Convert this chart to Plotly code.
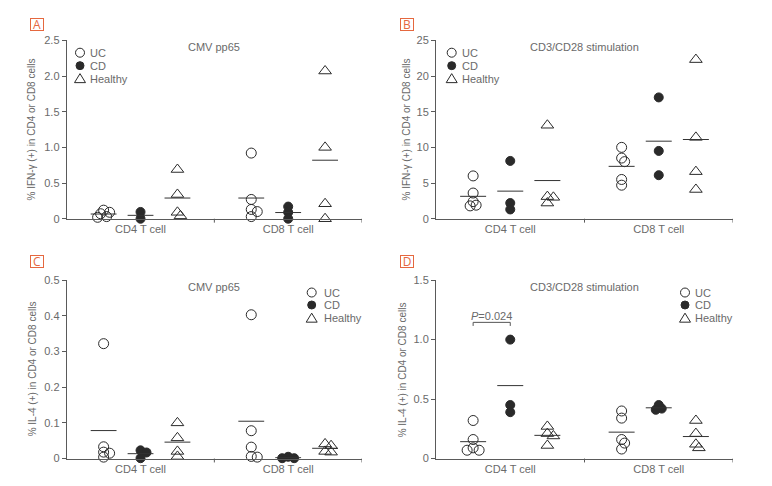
import plotly.graph_objects as go
import numpy as np

# ---------------- data ----------------
groups = ["UC", "CD", "Healthy"]
cells = ["CD4 T cell", "CD8 T cell"]

A_vals = {
    "CD4 T cell": {"UC": [0.12, 0.09, 0.07, 0.03, 0.02], "CD": [0.095, 0.0], "Healthy": [0.69, 0.34, 0.09, 0.04]},
    "CD8 T cell": {"UC": [0.92, 0.27, 0.13, 0.10, 0.03], "CD": [0.17, 0.09, 0.0], "Healthy": [2.07, 1.00, 0.21, 0.0]},
}
B_vals = {
    "CD4 T cell": {"UC": [6.0, 3.6, 2.4, 1.9, 1.8], "CD": [8.1, 2.2, 1.3], "Healthy": [13.1, 3.1, 3.0, 2.2]},
    "CD8 T cell": {"UC": [10.0, 8.5, 8.0, 5.5, 4.7], "CD": [17.0, 9.5, 6.1], "Healthy": [22.3, 11.4, 6.6, 4.1]},
}
C_vals = {
    "CD4 T cell": {"UC": [0.322, 0.033, 0.018, 0.015, 0.004], "CD": [0.023, 0.017, 0.001], "Healthy": [0.100, 0.058, 0.020, 0.006]},
    "CD8 T cell": {"UC": [0.403, 0.078, 0.032, 0.006, 0.004], "CD": [0.005, 0.001, 0.001], "Healthy": [0.041, 0.036, 0.020, 0.018]},
}
D_vals = {
    "CD4 T cell": {"UC": [0.32, 0.16, 0.09, 0.07, 0.07], "CD": [1.00, 0.45, 0.39], "Healthy": [0.27, 0.21, 0.19, 0.11]},
    "CD8 T cell": {"UC": [0.40, 0.34, 0.16, 0.13, 0.08], "CD": [0.45, 0.42, 0.41], "Healthy": [0.32, 0.21, 0.12, 0.09]},
}

panel_labels = ["A", "B", "C", "D"]
panel_titles = ["CMV pp65", "CD3/CD28 stimulation", "CMV pp65", "CD3/CD28 stimulation"]
y_titles = ["% IFN-γ (+) in CD4 or CD8 cells", "% IFN-γ (+) in CD4 or CD8 cells",
            "% IL-4 (+) in CD4 or CD8 cells", "% IL-4 (+) in CD4 or CD8 cells"]
y_max = [2.5, 25, 0.5, 1.5]
y_tickvals = [[0, 0.5, 1.0, 1.5, 2.0, 2.5], [0, 5, 10, 15, 20, 25],
              [0, 0.1, 0.2, 0.3, 0.4, 0.5], [0, 0.5, 1.0, 1.5]]
y_ticktext = [["0", "0.5", "1.0", "1.5", "2.0", "2.5"], ["0", "5", "10", "15", "20", "25"],
              ["0", "0.1", "0.2", "0.3", "0.4", "0.5"], ["0", "0.5", "1.0", "1.5"]]
panel_data = [A_vals, B_vals, C_vals, D_vals]
p_value_text = "<i>P</i>=0.024"

# ---------------- geometry (target pixels) ----------------
OFF = 8                      # page body margin
FW, FH = 772 - OFF, 486 - OFF
col_x = [(66.7, 362.0), (436.0, 733.0)]
row_y = [(35.0, 218.0), (281.0, 464.0)]
XMAX = 8.0

box_pos = [(30, 12), (400, 12.5), (29.5, 255.5), (400, 255.5)]      # top-left of letter boxes
ytitle_x = [32, 407, 32, 402]
leg_sym_x = [80, 451.7, 311.7, 685]
leg_txt_x = [88, 460, 321.7, 693.3]
leg_rows = [(47.7, 61, 74.3), (47.7, 61, 74.3), (293.7, 306.5, 320), (293.7, 306.5, 320)]


def pxx(x):
    return (x - OFF) / FW


def pxy(y):
    return 1 - (y - OFF) / FH


TXT = "#6a6a6a"
AX = "#5a5a5a"
MK = "#2a2a2a"
ORANGE = "#E5683F"
FONT = "Liberation Sans"

sym = {"UC": "circle-open", "CD": "circle", "Healthy": "triangle-up-open"}
msize = {"UC": 10, "CD": 9, "Healthy": 11}


def gpos(ci, gi):
    return ci * 4 + gi + 1


def beeswarm(vals, xscale, yscale, d=9.0):
    placed = []
    offs = [0.0] * len(vals)
    order = sorted(range(len(vals)), key=lambda i: -vals[i])
    step = 3.0
    cands = [0.0]
    for k in range(1, 10):
        cands += [k * step, -k * step]
    for i in order:
        yp = vals[i] * yscale
        for c in cands:
            if all(((c - px) ** 2 + (yp - py) ** 2) ** 0.5 >= d * 0.5 for px, py in placed):
                offs[i] = c / xscale
                placed.append((c, yp))
                break
    return offs


fig = go.Figure()
layout = dict(width=FW, height=FH, margin=dict(l=0, r=0, t=0, b=0),
              paper_bgcolor="white", plot_bgcolor="white",
              font=dict(family=FONT, color=TXT, size=11), showlegend=False)
annotations = []
shapes = []

for pi in range(4):
    r, c = divmod(pi, 2)
    sfx = "" if pi == 0 else str(pi + 1)
    xa, ya = "x" + sfx, "y" + sfx
    x0, x1 = col_x[c]
    y0, y1 = row_y[r]
    xscale = (x1 - x0) / XMAX
    yscale = (y1 - y0) / y_max[pi]

    mean_x, mean_y = [], []
    for gi, g in enumerate(groups):
        xs, ys = [], []
        for ci, cname in enumerate(cells):
            vals = panel_data[pi][cname][g]
            offs = beeswarm(vals, xscale, yscale)
            xs += [gpos(ci, gi) + o for o in offs]
            ys += vals
            m = float(np.mean(vals))
            mean_x += [gpos(ci, gi) - 0.35, gpos(ci, gi) + 0.35, None]
            mean_y += [m, m, None]
        fig.add_trace(go.Scatter(
            x=xs, y=ys, mode="markers", name=g, xaxis=xa, yaxis=ya,
            cliponaxis=False,
            marker=dict(symbol=sym[g], size=msize[g], color=MK, line=dict(color=MK, width=1)),
        ))
    fig.add_trace(go.Scatter(x=mean_x, y=mean_y, mode="lines", xaxis=xa, yaxis=ya, showlegend=False,
                             cliponaxis=False, line=dict(color="#333333", width=1), hoverinfo="skip"))

    layout["xaxis" + sfx] = dict(domain=[pxx(x0), pxx(x1)], range=[0, XMAX], anchor=ya, showline=True,
                                 linecolor=AX, linewidth=1, showgrid=False, zeroline=False, ticks="",
                                 tickvals=[2, 6], ticktext=cells, tickfont=dict(size=11, color=TXT))
    layout["yaxis" + sfx] = dict(domain=[pxy(y1), pxy(y0)], range=[0, y_max[pi]], anchor=xa, showline=True,
                                 linecolor=AX, linewidth=1, showgrid=False, zeroline=False,
                                 ticks="outside", ticklen=4, tickcolor=AX,
                                 tickvals=y_tickvals[pi], ticktext=y_ticktext[pi],
                                 tickfont=dict(size=11, color=TXT))
    # x tick marks at separator and right end
    for xv in (4, 8):
        shapes.append(dict(type="line", xref=xa, yref=ya + " domain", x0=xv, x1=xv, y0=0,
                           y1=-4 / (y1 - y0), line=dict(color=AX, width=1)))
    # y axis title
    annotations.append(dict(text=y_titles[pi], xref="paper", yref="paper", x=pxx(ytitle_x[pi]),
                            y=pxy((y0 + y1) / 2), textangle=-90, xanchor="center", yanchor="middle",
                            showarrow=False, font=dict(size=10, color=TXT)))
    # subtitle
    annotations.append(dict(text=panel_titles[pi], xref="paper", yref="paper", x=pxx((x0 + x1) / 2),
                            y=pxy(y0 + 7), xanchor="center", yanchor="middle", showarrow=False,
                            font=dict(size=11, color=TXT)))
    # panel letter box
    bx, by = box_pos[pi]
    annotations.append(dict(text=panel_labels[pi], xref="paper", yref="paper",
                            x=pxx(bx), y=pxy(by), xanchor="left", yanchor="top",
                            width=12, height=11, align="center", valign="middle",
                            showarrow=False, bordercolor=ORANGE, borderwidth=1, borderpad=0,
                            font=dict(size=12, color=ORANGE, family="Open Sans")))
    # legend (symbols as pixel-sized shapes, labels as text)
    sx = pxx(leg_sym_x[pi])
    rows = leg_rows[pi]
    shapes.append(dict(type="circle", xref="paper", yref="paper", xsizemode="pixel", ysizemode="pixel",
                       xanchor=sx, yanchor=pxy(rows[0]), x0=-4.5, x1=4.5, y0=-4.5, y1=4.5,
                       line=dict(color=MK, width=1), fillcolor="rgba(0,0,0,0)"))
    shapes.append(dict(type="circle", xref="paper", yref="paper", xsizemode="pixel", ysizemode="pixel",
                       xanchor=sx, yanchor=pxy(rows[1]), x0=-4, x1=4, y0=-4, y1=4,
                       line=dict(color=MK, width=1), fillcolor=MK))
    shapes.append(dict(type="path", xref="paper", yref="paper", xsizemode="pixel", ysizemode="pixel",
                       xanchor=sx, yanchor=pxy(rows[2]), path="M -5.5,-4 L 5.5,-4 L 0,5 Z",
                       line=dict(color=MK, width=1), fillcolor="rgba(0,0,0,0)"))
    for g, ry in zip(groups, rows):
        annotations.append(dict(text=g, xref="paper", yref="paper", x=pxx(leg_txt_x[pi]), y=pxy(ry),
                                xanchor="left", yanchor="middle", showarrow=False,
                                font=dict(size=11, color=TXT)))

# significance bracket in panel D
bx0, bx1 = gpos(0, 0), gpos(0, 1)
shapes.append(dict(type="path", xref="x4", yref="y4",
                   path=f"M {bx0},1.115 L {bx0},1.145 L {bx1},1.145 L {bx1},1.115",
                   line=dict(color="#555555", width=1)))
annotations.append(dict(text=p_value_text, xref="x4", yref="y4", x=(bx0 + bx1) / 2, y=1.20,
                        showarrow=False, font=dict(size=11, color=TXT)))

layout["annotations"] = annotations
layout["shapes"] = shapes
fig.update_layout(**layout)
fig.write_html("out.html")
